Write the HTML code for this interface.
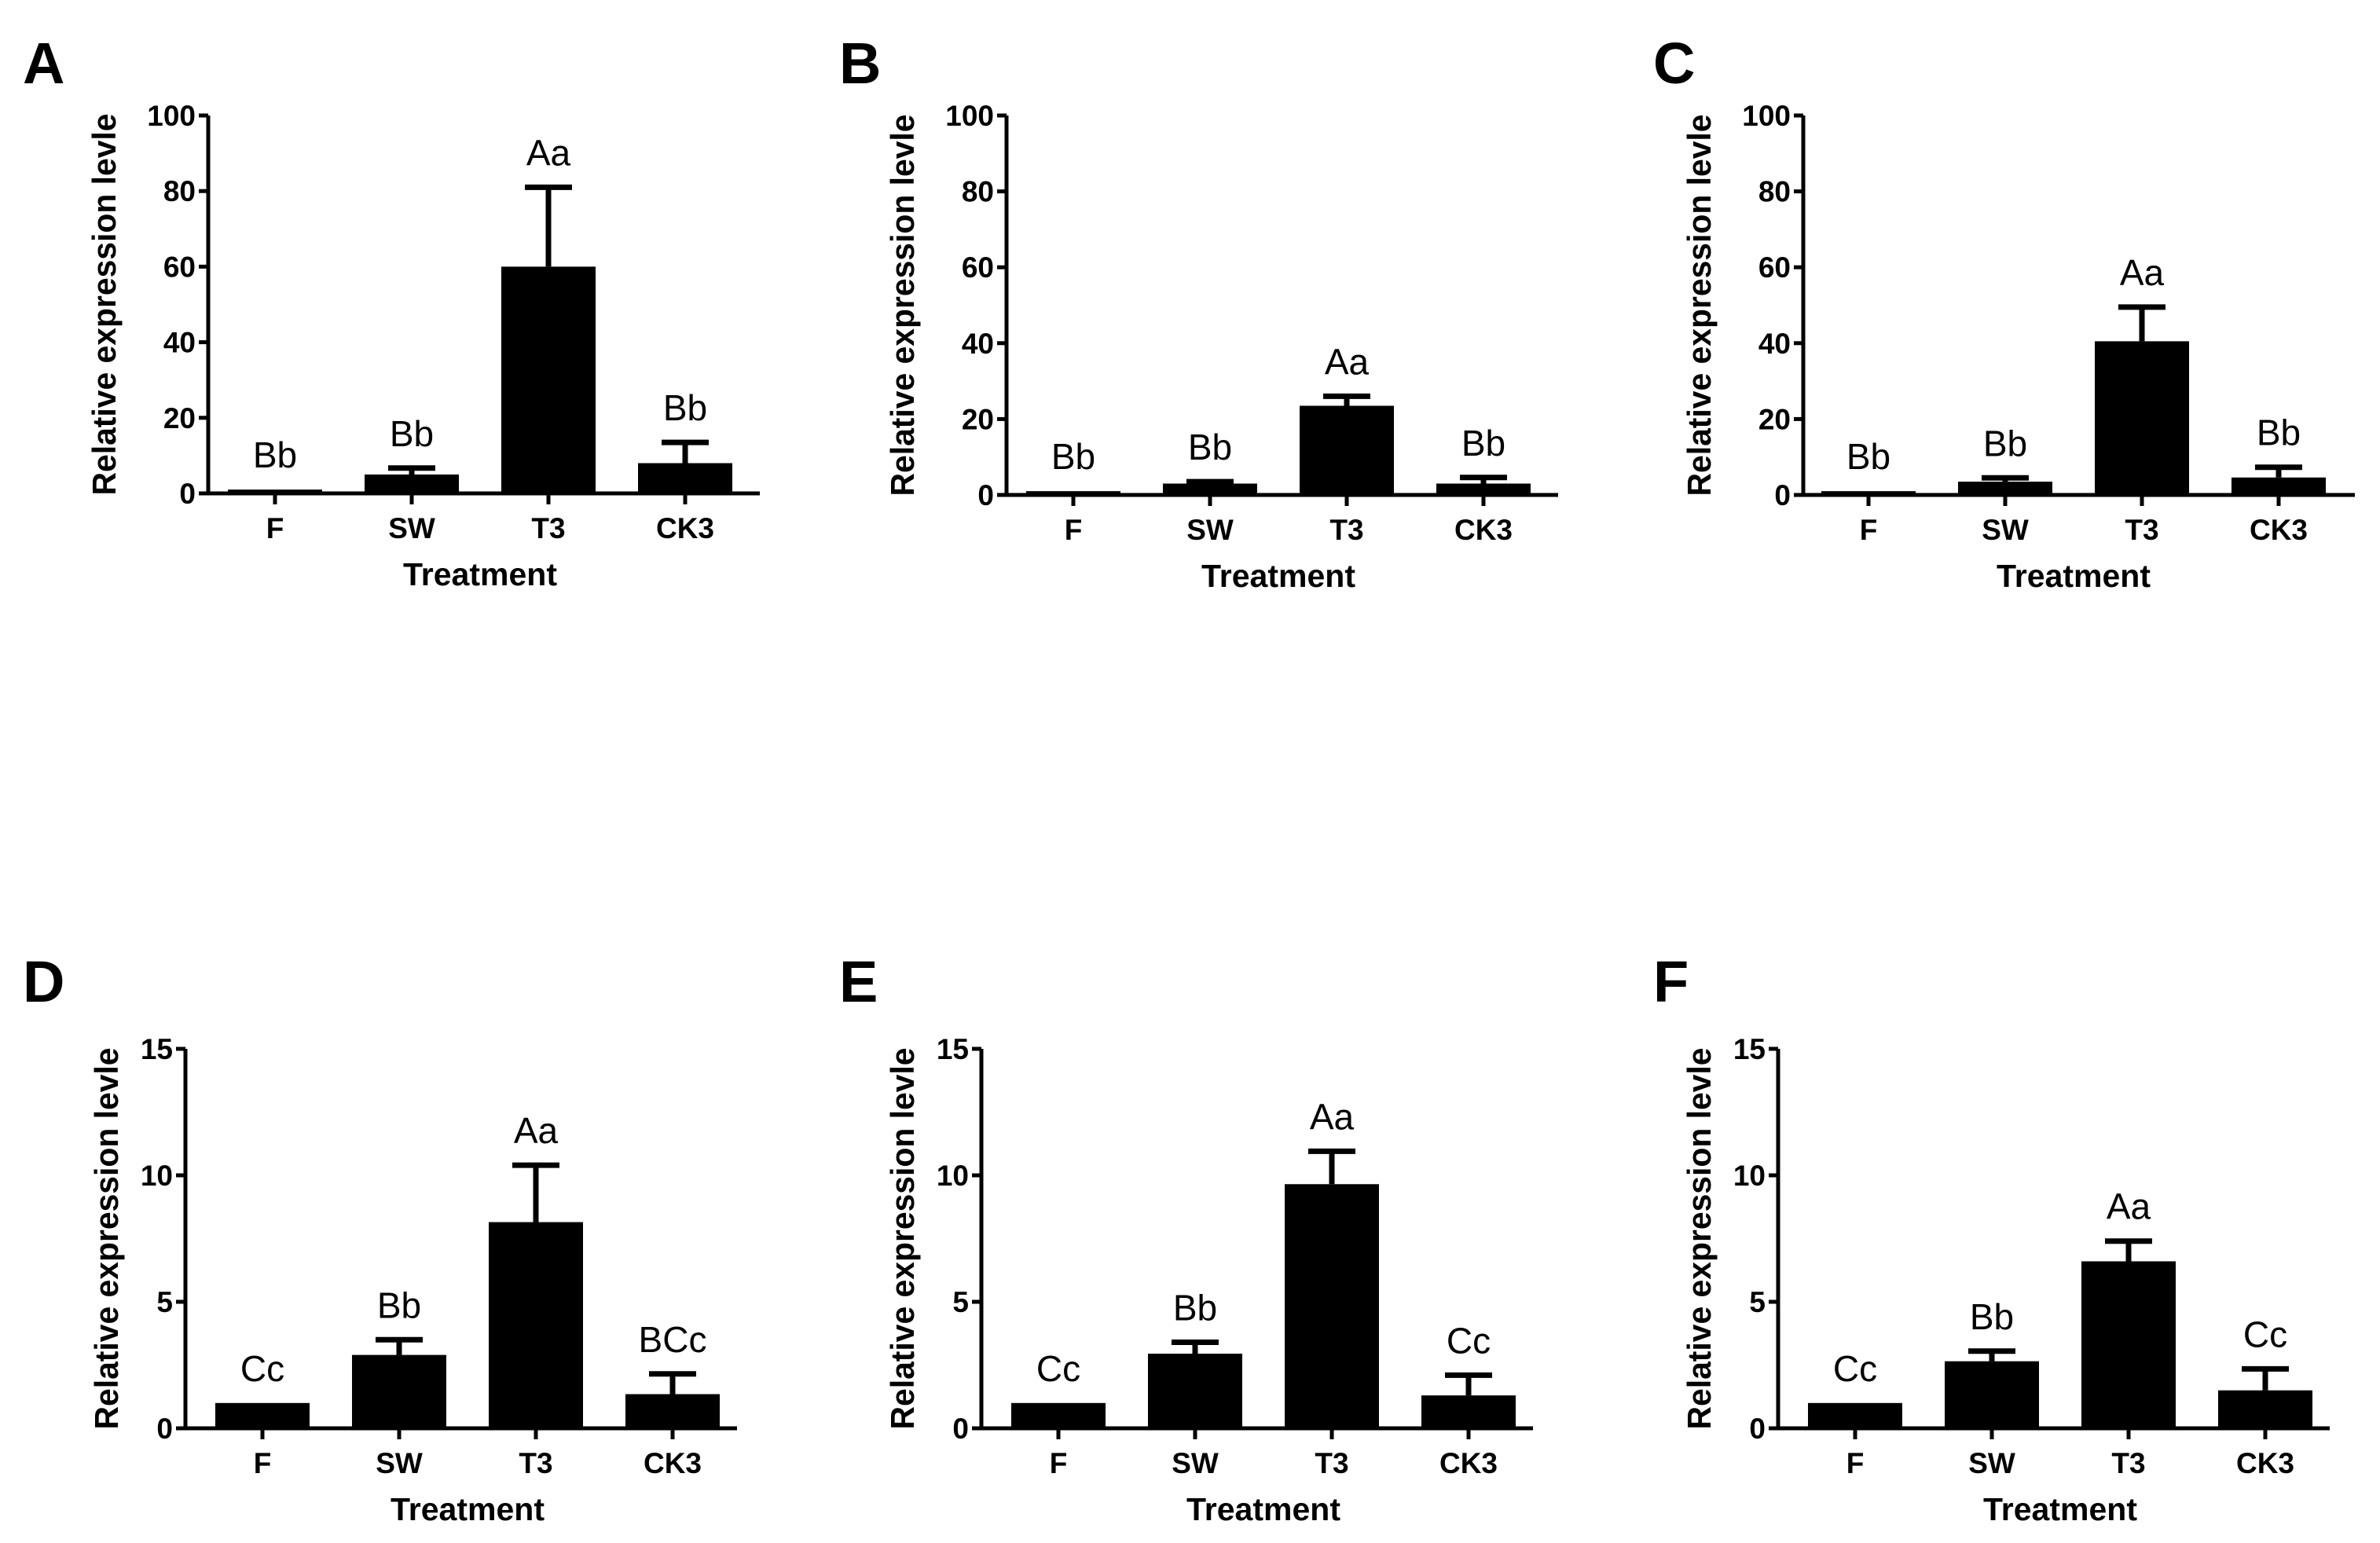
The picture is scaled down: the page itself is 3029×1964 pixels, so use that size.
<!DOCTYPE html>
<html><head><meta charset="utf-8"><style>html,body{margin:0;padding:0;background:#fff}svg{display:block}text{font-family:"Liberation Sans",Arial,sans-serif}</style></head>
<body>
<svg id="fig" width="3029" height="1964" viewBox="0 0 3029 1964" xmlns="http://www.w3.org/2000/svg"></svg>
<script>
const categories = ["F","SW","T3","CK3"];
const valuesA = [1, 5, 60, 8];
const errorsA = [0, 1.7, 21, 5.5];
const lettersA = ["Bb","Bb","Aa","Bb"];
const valuesB = [1, 3, 23.5, 3];
const errorsB = [0, 0.5, 2.5, 1.6];
const lettersB = ["Bb","Bb","Aa","Bb"];
const valuesC = [1, 3.5, 40.5, 4.6];
const errorsC = [0, 1, 9, 2.7];
const lettersC = ["Bb","Bb","Aa","Bb"];
const valuesD = [1, 2.9, 8.15, 1.35];
const errorsD = [0, 0.6, 2.25, 0.8];
const lettersD = ["Cc","Bb","Aa","BCc"];
const valuesE = [1, 2.95, 9.65, 1.3];
const errorsE = [0, 0.45, 1.3, 0.8];
const lettersE = ["Cc","Bb","Aa","Cc"];
const valuesF = [1, 2.65, 6.6, 1.5];
const errorsF = [0, 0.4, 0.8, 0.85];
const lettersF = ["Cc","Bb","Aa","Cc"];
const ticksTop = [0,20,40,60,80,100];
const ticksBottom = [0,5,10,15];

const svg = document.getElementById('fig');
const NS = "http://www.w3.org/2000/svg";
function mk(tag, attrs, parent){const e=document.createElementNS(NS,tag);for(const k in attrs)e.setAttribute(k,attrs[k]);(parent||svg).appendChild(e);return e;}

function panel(id, letter, letterX, ax, top, zero, ymax, ticks, vals, errs, lets, firstOff, letterY){
  const g = mk('g',{});
  
  
  const y = v => zero - (v/ymax)*(zero-top);
  const xc = i => ax + firstOff + i*174;
  const L = mk('text',{x:letterX,y:letterY,'font-size':74,'font-weight':'bold'},g);
  L.textContent = letter;
  
  
  const ya = mk('line',{x1:ax,y1:top,x2:ax,y2:zero+2,stroke:'#000','stroke-width':5},g);
  
  
  const xa = mk('line',{x1:ax-12,y1:zero,x2:ax+702,y2:zero,stroke:'#000','stroke-width':5},g);
  
  
  ticks.forEach(t=>{
    mk('line',{x1:ax-12,y1:y(t),x2:ax,y2:y(t),stroke:'#000','stroke-width':5},g);
    const tl = mk('text',{x:ax-16,y:y(t)+13,'font-size':37,'font-weight':'bold','text-anchor':'end'},g);
    tl.textContent = t;
    
    
  });
  const ymid = (top+zero)/2;
  const tx = (letter<'D') ? ax-118 : ax-86;
  const yt = mk('text',{x:tx,y:ymid,'font-size':42,'font-weight':'bold','text-anchor':'middle',transform:`rotate(-90 ${tx} ${ymid})`,textLength:486,lengthAdjust:'spacingAndGlyphs'},g);
  yt.textContent = 'Relative expression levle';
  
  
  categories.forEach((c,i)=>{
    const x = xc(i);
    mk('line',{x1:x,y1:zero,x2:x,y2:zero+14,stroke:'#000','stroke-width':5},g);
    const r = mk('rect',{x:x-60,y:y(vals[i]),width:120,height:zero-y(vals[i]),fill:'#000'},g);
    
    
    const capY = y(vals[i]+errs[i]);
    if(errs[i]>0){
      const eb = mk('path',{d:`M${x} ${y(vals[i])}V${capY}M${x-30} ${capY}H${x+30}`,stroke:'#000','stroke-width':7,fill:'none'},g);
      
      
    }
    const an = mk('text',{x:x,y:capY-28,'font-size':46,'text-anchor':'middle'},g);
    an.textContent = lets[i];
    
    
    const cl = mk('text',{x:x,y:zero+57,'font-size':37,'font-weight':'bold','text-anchor':'middle'},g);
    cl.textContent = c;
    
    
  });
  const xt = mk('text',{x:ax+firstOff+261,y:zero+117,'font-size':41,'font-weight':'bold','text-anchor':'middle'},g);
  xt.textContent = 'Treatment';
  
  
}
panel('a','A',29,265,147,628,100,ticksTop,valuesA,errorsA,lettersA,85,106);
panel('b','B',1068,1281,147,630,100,ticksTop,valuesB,errorsB,lettersB,85,106);
panel('c','C',2104,2295,147,630,100,ticksTop,valuesC,errorsC,lettersC,83,106);
panel('d','D',29,236,1335,1818,15,ticksBottom,valuesD,errorsD,lettersD,98,1275);
panel('e','E',1068,1249,1335,1818,15,ticksBottom,valuesE,errorsE,lettersE,98,1275);
panel('f','F',2104,2263,1335,1818,15,ticksBottom,valuesF,errorsF,lettersF,98,1275);
</script>
</body></html>
